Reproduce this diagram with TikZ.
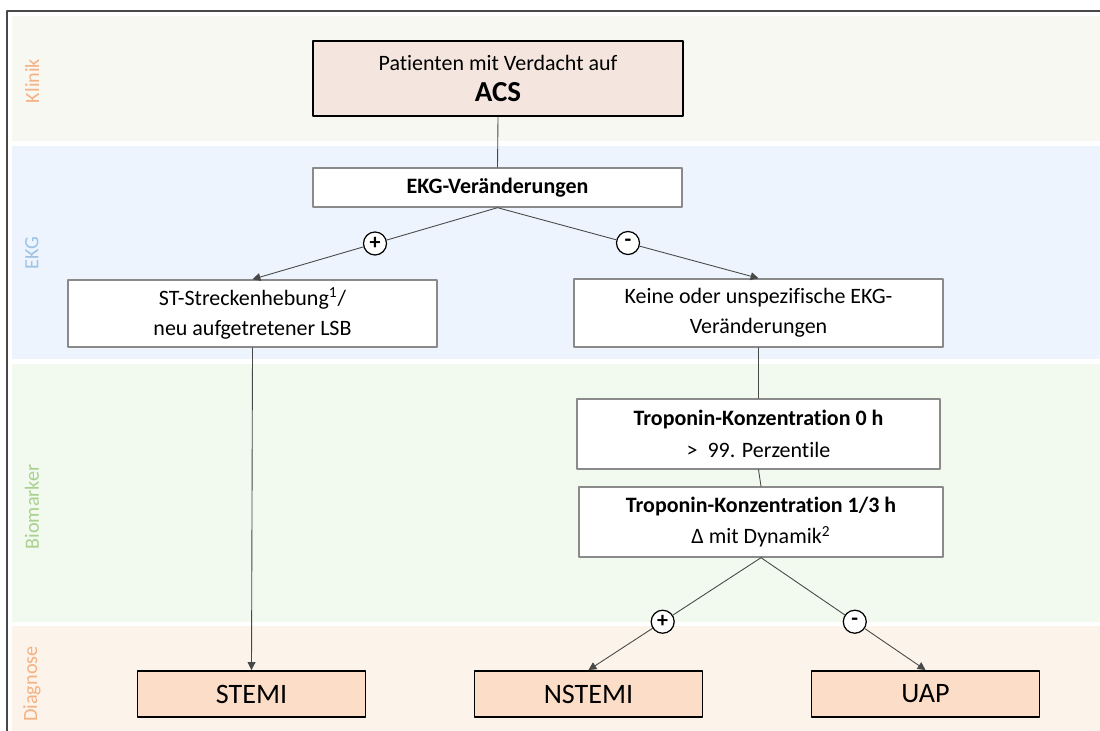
\documentclass[tikz,border=0pt]{standalone}
\usepackage{fontspec}
\setmainfont{Carlito}[Ligatures=NoCommon]
\usetikzlibrary{calc}
\usetikzlibrary{arrows.meta}
\definecolor{klinikbg}{HTML}{F8F8F3}
\definecolor{ekgbg}{HTML}{EDF4FD}
\definecolor{biobg}{HTML}{F2F9EF}
\definecolor{diagbg}{HTML}{FCF3EA}
\definecolor{acsfill}{HTML}{F4E6DF}
\definecolor{dxfill}{HTML}{FCDDC8}
\definecolor{boxgray}{HTML}{8A8A8A}
\definecolor{linegray}{HTML}{484848}
\definecolor{laneorange}{HTML}{F4B183}
\definecolor{laneblue}{HTML}{9DC3E6}
\definecolor{lanegreen}{HTML}{A9D18E}
\tikzset{
  box/.style={draw=boxgray,line width=0.8pt,fill=white,align=center,inner sep=0pt,
    minimum width=7.38cm,font=\fontsize{12.5}{17}\selectfont},
  dxbox/.style={draw=black,line width=1.1pt,fill=dxfill,inner sep=0pt,
    minimum width=4.56cm,minimum height=0.92cm,font=\fontsize{16}{19}\selectfont},
  sign/.style={circle,draw=black,line width=0.7pt,fill=white,inner sep=0pt,
    minimum size=0.46cm,font=\bfseries\fontsize{12.5}{12.5}\selectfont},
  lane/.style={rotate=90,font=\fontsize{11.5}{13}\selectfont},
  conn/.style={draw=linegray,line width=0.5pt}
}

\begin{document}
\begin{tikzpicture}[line cap=round,line join=round,>={Triangle[length=4.5pt,width=4.5pt]},x=1.0cm,y=1.0cm]
  \useasboundingbox (0,0) rectangle (22,14.62);
  \clip (0,0) rectangle (22,14.62);
  \fill[white] (0,0) rectangle (22,14.62);
  % lanes
  \fill[klinikbg] (0.24,11.80) rectangle (22.5,14.30);
  \fill[ekgbg] (0.24,7.44) rectangle (22.5,11.70);
  \fill[biobg] (0.24,2.18) rectangle (22.5,7.34);
  \fill[diagbg] (0.24,-0.5) rectangle (22.5,2.10);
  \draw[line width=1pt,color=linegray] (0.14,-0.5) -- (0.14,14.40) -- (22.5,14.40);
  \node[lane,color=laneorange] (lklinik) at (0.64,13.00) {Klinik};
  \node[lane,color=laneblue] (lekg) at (0.64,9.56) {EKG};
  \node[lane,color=lanegreen] (lbio) at (0.64,4.48) {Biomarker};
  \node[lane,color=laneorange] (ldiag) at (0.64,0.94) {Diagnose};
  % boxes
  \node[box,draw=black,line width=1.1pt,fill=acsfill,minimum width=7.4cm,minimum height=1.5cm] (acs) at (9.96,13.05)
    {Patienten mit Verdacht auf\\[1pt]{\fontsize{16.5}{19}\selectfont\bfseries ACS}};
  \node[box,minimum height=0.78cm,font=\bfseries\fontsize{12.5}{15}\selectfont] (ekg) at (9.95,10.87) {EKG-Veränderungen};
  \node[box,minimum height=1.34cm] (st) at (5.05,8.35) {ST-Streckenhebung\textsuperscript{1}/\\neu aufgetretener LSB};
  \node[box,minimum height=1.36cm] (keine) at (15.17,8.36) {Keine oder unspezifische EKG-\\Veränderungen};
  \node[box,minimum width=7.26cm,minimum height=1.4cm] (trop0) at (15.17,5.94)
    {\textbf{Troponin-Konzentration 0 h}\\[1pt]>\ \ 99. Perzentile};
  \node[box,minimum width=7.28cm,minimum height=1.4cm] (trop13) at (15.22,4.18)
    {\textbf{Troponin-Konzentration 1/3 h}\\[1pt]Δ mit Dynamik\textsuperscript{2}};
  \node[dxbox] (stemi) at (5.03,0.74) {STEMI};
  \node[dxbox] (nstemi) at (11.77,0.74) {NSTEMI};
  \node[dxbox] (uap) at (18.51,0.74) {UAP};
  % signs
  \node[sign] (ekgplus) at ($(ekg.south)!0.5!(st.north)$) {+};
  \node[sign] (ekgminus) at ($(ekg.south)!0.5!(keine.north)$) {-};
  \node[sign] (tropplus) at ($(trop13.south)!0.57!(nstemi.north)$) {+};
  \node[sign] (tropminus) at ($(trop13.south)!0.57!(uap.north)$) {-};
  % connectors
  \draw[conn] (acs.south) -- (ekg.north);
  \draw[conn] (ekg.south) -- (ekgplus);
  \draw[conn,->] (ekgplus) -- (st.north);
  \draw[conn] (ekg.south) -- (ekgminus);
  \draw[conn,->] (ekgminus) -- (keine.north);
  \draw[conn,->] (st.south) -- (stemi.north);
  \draw[conn] (keine.south) -- (trop0.north);
  \draw[conn] (trop0.south) -- (trop13.north);
  \draw[conn] (trop13.south) -- (tropplus);
  \draw[conn,->] (tropplus) -- (nstemi.north);
  \draw[conn] (trop13.south) -- (tropminus);
  \draw[conn,->] (tropminus) -- (uap.north);
\end{tikzpicture}
\end{document}
